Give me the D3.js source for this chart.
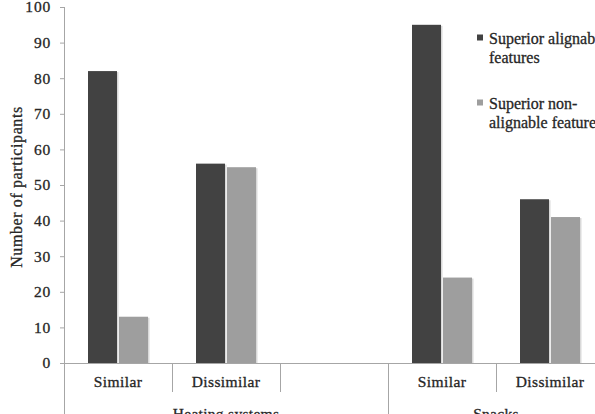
<!DOCTYPE html>
<html>
<head>
<meta charset="utf-8">
<script src="https://cdn.jsdelivr.net/npm/d3@7"></script>
<style>
  html, body { margin: 0; padding: 0; background: #fff; overflow: hidden; }
  svg { display: block; }
</style>
</head>
<body>
<svg id="chart" width="595" height="414"></svg>
<script>
// ---- data ----
const slots = ["hSimilar", "hDissimilar", "hBlank", "sSimilar", "sDissimilar"];
const slotLabels = ["Similar", "Dissimilar", "", "Similar", "Dissimilar"];
const groups = ["Heating systems", "Snacks"];
const groupSlots = [["hSimilar", "hBlank"], ["sSimilar", "sDissimilar"]];
const series = ["Superior alignable features", "Superior non-alignable features"];
const alignableValues = [82, 56, null, 95, 46];
const nonAlignableValues = [13, 55, null, 24, 41];
const yTicks = [0, 10, 20, 30, 40, 50, 60, 70, 80, 90, 100];
const legendLines = [["Superior alignable", "features"], ["Superior non-", "alignable features"]];
const colors = ["#424242", "#9e9e9e"];

// ---- layout ----
const FONT = "Liberation Serif";
const TXT = "#262626";
const svg = d3.select("#chart");
const x0 = 64, xEnd = 604, yTop = 7, yBase = 363;
const x = d3.scaleBand().domain(slots).range([x0, xEnd]).paddingInner(0).paddingOuter(0);
const xs = d3.scaleBand().domain(series).range([24, 84]).paddingInner(0.065);
const y = d3.scaleLinear().domain([0, 100]).range([yBase, yTop]);
const axisColor = "#a6a6a6";

function txt(sel, size) {
  return sel.attr("font-family", FONT).attr("font-size", size || 15.5).attr("fill", TXT)
    .attr("stroke", TXT).attr("stroke-width", 0.3);
}

// y axis
const yAxis = svg.append("g").attr("transform", `translate(${x0},0)`)
  .call(d3.axisLeft(y).tickValues(yTicks).tickSize(4).tickPadding(10).tickFormat(d3.format("d")));
yAxis.attr("font-family", FONT).attr("font-size", 15.5);
yAxis.select(".domain").remove();
yAxis.selectAll(".tick line").attr("stroke", axisColor);
yAxis.selectAll(".tick text").attr("fill", TXT).attr("stroke", TXT).attr("stroke-width", 0.3)
  .attr("letter-spacing", 0.8).attr("dx", 1);
svg.append("line").attr("x1", x0 + 0.5).attr("x2", x0 + 0.5).attr("y1", yTop).attr("y2", 414)
  .attr("stroke", axisColor);

// y title
txt(svg.append("text"), 16).attr("transform", "translate(22,187) rotate(-90)")
  .attr("text-anchor", "middle").attr("letter-spacing", 0.6)
  .text("Number of participants");

// bars
const rows = slots.map((s, i) => ({ slot: s, vals: [alignableValues[i], nonAlignableValues[i]] }));
const barG = svg.append("g");
rows.forEach(r => {
  r.vals.forEach((v, j) => {
    if (v == null) return;
    const bx = x(r.slot) + xs(series[j]);
    barG.append("rect").attr("x", bx + 1.5).attr("y", y(v) + 1).attr("width", xs.bandwidth())
      .attr("height", yBase - y(v) - 1).attr("fill", "#d9d9d9");
    barG.append("rect").attr("x", bx).attr("y", y(v)).attr("width", xs.bandwidth())
      .attr("height", yBase - y(v)).attr("fill", colors[j]);
  });
});

// x axis line
svg.append("line").attr("x1", 60).attr("x2", 595).attr("y1", yBase + 0.5).attr("y2", yBase + 0.5)
  .attr("stroke", axisColor);

// separators
slots.forEach((s, i) => {
  if (i === 0) return;
  const isGroupStart = groupSlots.some(g => g[0] === s);
  svg.append("line").attr("x1", x(s) + 0.5).attr("x2", x(s) + 0.5)
    .attr("y1", yBase).attr("y2", isGroupStart ? 414 : 392).attr("stroke", axisColor);
});

// category labels
slots.forEach((s, i) => {
  txt(svg.append("text")).attr("x", x(s) + x.bandwidth() / 2).attr("y", 387)
    .attr("text-anchor", "middle").attr("letter-spacing", 0.4)
    .text(slotLabels[i]);
});
groups.forEach((g, i) => {
  const a = x(groupSlots[i][0]), b = x(groupSlots[i][1]) + x.bandwidth();
  txt(svg.append("text")).attr("x", (a + b) / 2).attr("y", 419)
    .attr("text-anchor", "middle").attr("letter-spacing", 0.3)
    .text(g);
});

// legend
const legendY = [44, 109];
series.forEach((s, i) => {
  const g = svg.append("g");
  g.append("rect").attr("x", 477).attr("y", legendY[i] - 9.5).attr("width", 6).attr("height", 6)
    .attr("fill", colors[i]);
  legendLines[i].forEach((ln, k) => {
    txt(g.append("text"), 16).attr("x", 489).attr("y", legendY[i] + k * 18.5)
      .text(ln);
  });
});
</script>
</body>
</html>
